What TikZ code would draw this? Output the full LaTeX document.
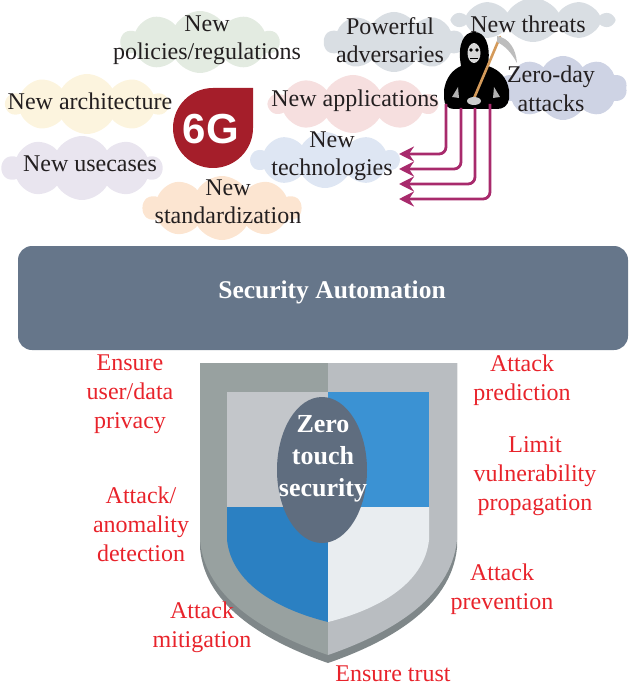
\documentclass[tikz,border=0pt]{standalone}
\usepackage{fontspec}
\setmainfont{Liberation Serif}
\newfontfamily\logofont{Liberation Sans}
\usetikzlibrary{shapes.symbols,shapes.geometric,arrows.meta}

% palette
\definecolor{inkblack}{HTML}{231F20}
\definecolor{alertred}{HTML}{E8232B}
\definecolor{slate}{HTML}{66768A}
\definecolor{ovalslate}{HTML}{5F6D7F}
\definecolor{logored}{HTML}{A51E2A}
\definecolor{threatmag}{HTML}{A82A6C}
\definecolor{cgreen}{HTML}{E3EBE1}
\definecolor{cyellow}{HTML}{FCF4DE}
\definecolor{clavender}{HTML}{E9E5EF}
\definecolor{cpeach}{HTML}{FCE5D1}
\definecolor{cpink}{HTML}{F6DFDF}
\definecolor{cblue}{HTML}{DEE6F3}
\definecolor{cgrey}{HTML}{D9DEE3}
\definecolor{shieldrim}{HTML}{7F8789}
\definecolor{shieldleft}{HTML}{98A1A0}
\definecolor{shieldright}{HTML}{B9BDC1}
\definecolor{quadgrey}{HTML}{C3C6CA}
\definecolor{quadblueA}{HTML}{3B92D3}
\definecolor{quadblueB}{HTML}{2B80C2}
\definecolor{quadwhite}{HTML}{E9EDF0}
\definecolor{stick}{HTML}{D49A5A}
\definecolor{blade}{HTML}{BDBDBD}

\tikzset{
  puff/.style={cloud, cloud puffs=10, cloud puff arc=120, aspect=2.4,
    inner sep=0pt, draw=none},
  toplabel/.style={font=\fontsize{24}{28.5}\selectfont, text=inkblack,
    align=center, inner sep=0pt},
  goal/.style={font=\fontsize{24}{29}\selectfont, text=alertred,
    align=center, inner sep=0pt},
  bar/.style={fill=slate, rounded corners=14pt, minimum width=610pt,
    minimum height=104pt, inner sep=0pt},
  bartext/.style={font=\bfseries\fontsize{25.5}{30}\selectfont, text=white,
    inner sep=0pt},
  core/.style={ellipse, fill=ovalslate, minimum width=90pt,
    minimum height=146pt, inner sep=0pt},
  coretext/.style={font=\bfseries\fontsize{26}{32}\selectfont, text=white,
    align=center, inner sep=0pt},
  threat/.style={draw=threatmag, line width=2.8pt, rounded corners=7pt,
    -{Stealth[length=15pt,width=15pt,inset=5pt]}},
}

\begin{document}
\begin{tikzpicture}[x=1pt,y=-1pt]
\useasboundingbox (0,0) rectangle (629,687);

% ---- soft clouds behind the driver labels
\node[puff, fill=cgreen,    minimum width=158pt, minimum height=62pt] (c-pol)  at (200,42)  {};
\node[puff, fill=cyellow,   minimum width=162pt, minimum height=60pt] (c-arch) at (87,104)  {};
\node[puff, fill=clavender, minimum width=160pt, minimum height=64pt] (c-use)  at (82,168)  {};
\node[puff, fill=cpeach,    minimum width=158pt, minimum height=64pt] (c-std)  at (222,208) {};
\node[puff, fill=cpink,     minimum width=168pt, minimum height=58pt] (c-app)  at (353,104) {};
\node[puff, fill=cblue,     minimum width=148pt, minimum height=56pt] (c-tech) at (325,160) {};
\node[puff, fill=cgrey,     minimum width=140pt, minimum height=60pt] (c-adv)  at (394,42)  {};
\node[puff, fill=cgrey,     minimum width=160pt, minimum height=44pt] (c-thr)  at (533,20)  {};
\node[puff, fill=cgrey!95!blue, minimum width=128pt, minimum height=64pt] (c-zero) at (563,88) {};

% ---- 6G logo: a disc with a square top-right corner
\fill[logored] (253,88) -- (253,128) arc[start angle=0, end angle=270, radius=40] -- cycle;
\node[font=\logofont\bfseries\fontsize{42}{42}\selectfont, text=white, inner sep=0pt]
  (logo) at (211,129) {6G};

% ---- hooded reaper with scythe
\fill[black] (461,66) .. controls (457,44) and (464,32) .. (474,32)
  .. controls (485,32) and (491,44) .. (488,66)
  .. controls (500,70) and (507,78) .. (509,90) -- (509,99)
  .. controls (508,106) and (503,109) .. (497,109) -- (454,109)
  .. controls (448,109) and (444,105) .. (444,98) -- (444,90)
  .. controls (446,78) and (452,70) .. (461,66) -- cycle;
\fill[white!85!black] (474,53) ellipse[x radius=6.5, y radius=10];
\fill[black] (471,50) circle[radius=1.8] (477,50) circle[radius=1.8];
\draw[black, line width=0.8pt] (470,58) -- (478,58);
\fill[white!70!black] (452,97) -- (458,87) -- (459,98) -- cycle;
\fill[white!70!black] (500,97) -- (494,87) -- (493,98) -- cycle;
\draw[stick, line width=2.6pt, line cap=round] (472,103) -- (500,37);
\fill[blade] (497,36) .. controls (509,38) and (516,49) .. (517,63)
  .. controls (511,52) and (505,46) .. (497,42) -- cycle;
\fill[white!80!black] (474,101) ellipse[x radius=7, y radius=4];

% ---- attack arrows from the reaper towards the new technologies
\coordinate (src1) at (446,104);
\coordinate (src2) at (461,108);
\coordinate (src3) at (475,108);
\coordinate (src4) at (490,104);
\coordinate (dst1) at (399,154);
\coordinate (dst2) at (399,169);
\coordinate (dst3) at (399,184);
\coordinate (dst4) at (399,199);
\draw[threat] (src1) |- (dst1);
\draw[threat] (src2) |- (dst2);
\draw[threat] (src3) |- (dst3);
\draw[threat] (src4) |- (dst4);

% ---- driver labels
\node[toplabel] (pol)  at (207,40)  {New\\policies/regulations};
\node[toplabel] (arch) at (90,101)  {New architecture};
\node[toplabel] (use)  at (90,164)  {New usecases};
\node[toplabel] (std)  at (228,202) {New\\standardization};
\node[toplabel] (app)  at (355,101) {New applications};
\node[toplabel] (tech) at (332,156) {New\\technologies};
\node[toplabel] (adv)  at (390,40)  {Powerful\\adversaries};
\node[toplabel] (thr)  at (528,24)  {New threats};
\node[toplabel] (zday) at (551,89)  {Zero-day\\attacks};

% ---- automation layer
\node[bar] (automation) at (323,298) {};
\node[bartext] (automation-label) at (332,292) {Security Automation};

% ---- shield
\fill[shieldrim] (200,363) -- (200,548) .. controls (205,608) and (270,643) .. (328,663)
  .. controls (386,643) and (451,608) .. (457,548) -- (457,363) -- cycle;
\fill[shieldleft] (328,363) -- (200,363) -- (200,540)
  .. controls (205,600) and (270,635) .. (328,655) -- cycle;
\fill[shieldright] (328,363) -- (457,363) -- (457,540)
  .. controls (451,600) and (386,635) .. (328,655) -- cycle;
\fill[quadgrey]   (227,392) rectangle (328,507);
\fill[quadblueA]  (328,392) rectangle (429,507);
\fill[quadblueB]  (227,507) -- (227,540) .. controls (232,585) and (280,610) .. (328,622)
  -- (328,507) -- cycle;
\fill[quadwhite]  (429,507) -- (429,540) .. controls (424,585) and (376,610) .. (328,622)
  -- (328,507) -- cycle;
\node[core] (zts) at (322,470) {};
\node[coretext] (zts-label) at (323,459) {Zero\\touch\\security};

% ---- security goals
\node[goal] (privacy)    at (130,394) {Ensure\\user/data\\privacy};
\node[goal] (detection)  at (141,524) {Attack/\\anomality\\detection};
\node[goal] (mitigation) at (202,627) {Attack\\mitigation};
\node[goal] (trust)      at (393,674) {Ensure trust};
\node[goal] (prediction) at (522,380) {Attack\\prediction};
\node[goal] (limit)      at (535,476) {Limit\\vulnerability\\propagation};
\node[goal] (prevention) at (502,589) {Attack\\prevention};
\end{tikzpicture}
\end{document}
